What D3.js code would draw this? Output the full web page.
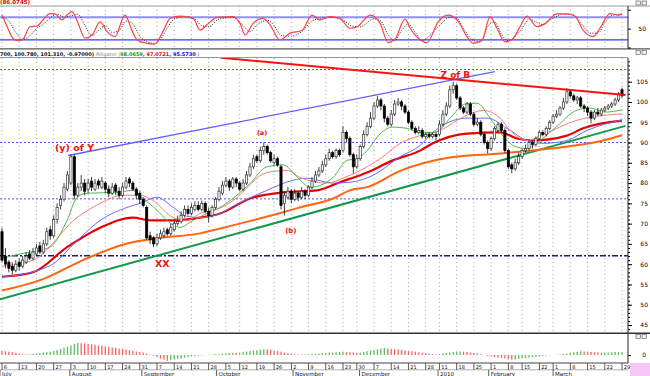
<!DOCTYPE html>
<html>
<head>
<meta charset="utf-8">
<script src="https://cdn.jsdelivr.net/npm/d3@7"></script>
<style>
  body { margin: 0; background: #fff; }
  svg { display: block; font-family: "DejaVu Sans", Verdana, sans-serif; }
</style>
</head>
<body>
<div id="chart"></div>
<script>
// ---- data: daily candles, bar index 0 = 6 July 2009 ----
const opens = [
  68, 62, 60.5, 59.5, 58.5, 60.5, 59.5, 60.5, 62.5, 61.5,
  62.5, 64.5, 63, 65, 68.5, 67, 71, 74.5, 76, 78.5,
  80, 86.5, 77, 79, 80, 78.5, 80.5, 78.5, 80.5, 79,
  80, 78.5, 77.5, 79.5, 78, 77, 79, 81, 80, 78.5,
  77.5, 76, 74, 67, 66.5, 65, 66.5, 67, 68.5, 67.5,
  68.5, 70, 70.5, 72, 73.5, 72.5, 73.5, 74.5, 73.5, 75,
  73, 72, 74, 76, 77.5, 79.5, 80.5, 79, 81, 80,
  78.5, 80, 82, 84, 86.5, 85.5, 88, 89, 87.5, 85,
  86, 84, 75, 76.5, 78, 76, 77.5, 76.5, 78, 77,
  79, 80.5, 82, 83, 84.5, 86, 87.5, 86.5, 88, 88,
  92.5, 91, 87, 84, 86, 89, 92, 94, 96, 99,
  100.5, 99, 96, 94.5, 97, 99.5, 100, 99, 97.5, 95,
  93.5, 92.5, 93, 91.5, 92, 91.5, 92, 92, 94.5, 97,
  99, 103, 104, 101, 98.5, 97.5, 99.5, 97, 94.5, 95,
  92, 90, 88.5, 91, 93, 94.5, 93, 88, 84.5, 83.5,
  85, 86.5, 88, 88.5, 90, 89.5, 91, 92.5, 92, 93.5,
  95, 96.5, 97, 98.5, 100, 102.5, 101.5, 100.5, 101, 99,
  98.5, 97.5, 96, 97.5, 97, 98, 98.5, 99, 99.5, 100.5,
  103
];
const highs = [
  69, 64, 61, 60.5, 61, 61.5, 62, 63, 63.5, 64,
  65, 65.5, 66, 69, 69.5, 72, 75, 77, 80, 83,
  87, 87, 80, 82, 81, 81, 81.5, 81, 81, 81.5,
  80.5, 79.5, 80, 80, 79, 80, 81.5, 81.5, 80.5, 79,
  78, 76.5, 74.5, 68, 67, 67.5, 68.5, 69, 69, 70,
  71, 72, 73, 74.5, 74.5, 75, 75.5, 75.5, 75.7, 75.5,
  74, 74.5, 76.5, 79, 80.5, 81.5, 81, 81.5, 81.5, 80.5,
  81, 83, 85, 87, 87, 89, 90, 89.5, 88, 87,
  86.5, 84.5, 78, 79, 78.5, 78.5, 78, 79, 78.5, 79.5,
  81.5, 83, 84, 85.5, 87, 88.5, 88, 88.5, 88.5, 94,
  93, 91.5, 87.5, 87, 89.5, 93, 95, 97.5, 100, 101.5,
  101, 99.5, 96.5, 98, 100.5, 101, 100.5, 99.5, 98, 95.5,
  94, 94, 93.5, 92.5, 92.5, 92.5, 92.5, 95.5, 98, 100,
  104, 105, 104.5, 101.5, 99, 100, 100, 97.5, 96, 95.5,
  92.5, 90.5, 91.5, 94, 95, 95, 93.5, 88.5, 85, 86,
  87.5, 88.5, 89.5, 90.5, 90.5, 91.5, 93, 93, 94, 95.5,
  97, 98, 99, 101, 103.4, 103, 102, 101.5, 101.5, 99.5,
  99, 98, 98, 98.5, 98.5, 99, 99.5, 100, 101, 102.5,
  103.5
];
const lows = [
  60.5, 59, 58, 57.5, 58, 58.5, 59, 60, 61, 61,
  62, 62.5, 62.5, 64.5, 66, 66.5, 70, 73.5, 75.5, 78,
  79.5, 76, 76.5, 78, 77, 77.5, 78, 78, 78.5, 78.5,
  77.5, 76.5, 77, 77, 76, 76.5, 78.5, 79, 78, 76,
  75, 74, 66, 65, 64.2, 64.5, 66, 66.5, 67, 67,
  68, 69.5, 70, 71.5, 72, 72, 73, 73, 73, 72.5,
  70.3, 71.5, 73.5, 75.5, 77, 79, 78, 78.5, 79, 78,
  78, 79.5, 81.5, 83.5, 85, 85, 87, 87, 85, 84.5,
  84, 73.5, 72, 76, 75, 75.5, 75.5, 76, 76, 76.5,
  78.5, 80, 81.5, 82.5, 84, 85.5, 86, 86, 86.5, 87.5,
  90, 86.5, 82.4, 83.5, 85.5, 88.5, 91.5, 93.5, 95.5, 98.5,
  98, 95, 94, 94, 96.5, 99, 98, 97, 94.5, 93,
  92, 92, 91, 91, 91, 91, 90.5, 91.5, 94, 96.5,
  98.5, 102, 100.5, 98, 97, 97, 96.5, 94, 94, 91.5,
  89.5, 87.3, 88, 90.5, 92.5, 92.5, 87.5, 83.5, 82.4, 83,
  84.5, 86, 87.5, 88, 88.5, 89, 90.5, 91.5, 91.5, 93,
  94.5, 96, 96.5, 98, 99.5, 101, 100, 99.5, 98.5, 97.5,
  96.5, 94.7, 95.5, 96.5, 96.5, 97.5, 98, 98.5, 99, 100,
  101
];
const closes = [
  61, 60, 59, 58.5, 60, 59.5, 61, 62, 61.5, 63,
  64, 63, 65, 68, 67, 71, 74, 76, 79, 82,
  86.5, 77, 79, 80, 78, 80, 79, 80, 79.5, 80.5,
  78.5, 77.5, 79, 78, 77, 79, 80.5, 80, 78.5, 77,
  76, 74.5, 66.5, 66, 65, 66.5, 67.5, 68, 67.5, 69,
  70, 70.5, 72, 73.5, 72.5, 74, 74.5, 73.5, 75, 73,
  72, 74, 76, 78, 79.5, 80.5, 79, 81, 80, 78.5,
  80, 82, 84, 86, 85.5, 88, 89, 87.5, 85.5, 86,
  84.5, 74.5, 77, 78, 76, 77.5, 76.5, 78, 77, 79,
  80.5, 82, 83, 84.5, 86, 87.5, 86.5, 88, 87, 92.5,
  91, 87, 84, 86, 89, 92, 94, 96, 99, 100.5,
  99, 96, 94.5, 97, 99.5, 100, 99, 97.5, 95, 93.5,
  92.5, 93, 91.5, 92, 91.5, 92, 91.5, 94.5, 97, 99,
  103, 104, 101, 98.5, 97.5, 99.5, 97, 94.5, 95, 92,
  90, 88.5, 91, 93.5, 94.5, 93, 88, 84, 83.5, 85,
  86.5, 88, 88.5, 90, 89.5, 91, 92.5, 92, 93.5, 95,
  96.5, 97, 98.5, 100, 102.5, 101.5, 100.5, 101, 99, 98.5,
  97.5, 96, 97.5, 97, 98, 98.5, 99, 99.5, 100.5, 102,
  101.5
];

// histogram (lower pane), one value per bar
const histo = [
  4.3, 3.8, 3.3, 2.8, 2.2, 1.5, 0.8, 0.4, 0.8, 1.2,
  1.6, 2, 2.4, 2.8, 3.3, 4, 5, 6, 7.2, 8.4,
  9.6, 11, 12, 11.8, 11.5, 11.1, 10.7, 10.2, 9.7, 9.3,
  8.8, 8.2, 7.6, 7.2, 6.6, 6, 5.4, 4.8, 4.2, 3.6,
  3, 2.4, 1.6, 0.6, -0.8, -2.2, -3.6, -4.8, -5.7, -5.2,
  -4.6, -4, -3.4, -2.8, -2.2, -1.6, -1.1, -0.7, -0.4, -0.1,
  0.2, 0.5, 0.8, 1.1, 1.4, 1.7, 2, 2.3, 2.1, 2.6,
  3, 3.4, 3.9, 4.4, 4.9, 5.4, 5.8, 5.6, 5.2, 4.6,
  4, 3.3, 2.5, 1.8, 1.2, 0.8, 0.5, 0.6, 0.4, 0.7,
  0.9, 1.2, 1.5, 1.8, 2.1, 2.4, 2.6, 2.8, 3, 3.2,
  2.9, 2.7, 2.4, 2.2, 2.5, 3, 3.7, 4.4, 5.1, 5.8,
  6.4, 7, 6.6, 6.2, 5.8, 5.4, 5, 4.6, 4.2, 3.8,
  3.3, 2.8, 2.3, 1.8, 1.3, 0.9, 0.6, 1, 1.5, 2,
  2.5, 3, 3.4, 3.6, 3.3, 3, 2.6, 2.1, 1.5, 0.8,
  0, -0.8, -1.5, -2, -2.5, -3, -3.6, -4.2, -4.6, -4.4,
  -4, -3.6, -3.2, -2.8, -2.4, -2, -1.5, -1, -0.6, -0.3,
  0.1, 0.3, 0.6, 1, 1.6, 2.2, 2.8, 3.3, 3.8, 3.6,
  3.3, 3, 2.7, 2.4, 2.2, 2.4, 2.6, 2.8, 2.9, 3,
  3.1
];

// indicator lines: [bar, price]
const lipsGreen = [[0,61.5],[5.2,62.5],[13.9,64.2],[18.9,70.8],[21.8,76.5],[24.7,77.5],[33.4,77.7],[38,78.2],[40.9,76.2],[45,73.3],[47.9,70.8],[51.7,69.1],[55.5,70.8],[59.5,72.5],[63.3,74],[72,79.9],[76.9,84],[81.6,84.5],[85.7,81.5],[89.4,79],[92.3,79.4],[96.1,81.4],[100.2,85.6],[103.1,86],[106,88],[109.8,92.2],[113.5,93.8],[117.6,93.5],[121.4,92.5],[125.7,92.5],[130.1,96],[134.4,99.5],[137.9,99.7],[141.7,96],[144.6,92.5],[149,89],[152.4,88.5],[156.2,90.5],[161.1,94],[167,98],[170.8,98.5],[175.1,97.5],[180,98.07]];
const teethRed = [[0,59.5],[9,61],[21.8,71.5],[28.5,75],[35.1,77],[40.1,77],[43.8,75.7],[49.7,71.5],[53.7,70.8],[57.5,72.5],[63.3,73.8],[67.1,75.7],[76.9,82.6],[82.8,83.1],[86.5,81.4],[94.4,80],[99,81.2],[104,83.1],[109.8,86],[115.6,89.8],[121.4,91.7],[127.2,93],[134.4,96.5],[139.7,97.9],[144.6,96],[147.5,93],[152.4,90.5],[157.1,92],[167,95.5],[180,97.07]];
const jawBlue = [[0,56.8],[13.9,59.6],[21.8,65.8],[28.5,70.8],[36.3,74],[40.1,75],[45,76.5],[49.7,74],[53.7,71.8],[57.5,71.5],[63.3,72.5],[67.1,74.3],[76.9,78.2],[84.5,80.7],[88.6,81.2],[96.1,80],[101,80.2],[107.7,81.9],[115.6,86.5],[121.4,89.3],[125.1,92.5],[135,96],[140.8,96],[147.5,93],[152.4,90.5],[157.1,89.8],[164,90.5],[169.9,93],[180,95.57]];
const maRed = [[0,56.9],[9,58],[18.9,64.2],[28.5,69],[38,71.5],[43,70.8],[49.7,70.8],[57.5,71.5],[63.3,72.5],[72,76.2],[81.6,77.7],[91.5,78.2],[98.1,80.2],[106,82.6],[113.5,85.6],[121.4,88],[125.1,89.8],[135,92.2],[144.6,92.5],[149.5,91],[154.2,90.5],[164,91.7],[168.7,93.5],[180,95.4]];
const maOrange = [[0,53.5],[11.9,56.3],[23.5,61],[36.3,65.1],[45,66.4],[57.5,67.6],[63.3,68.8],[81.6,72.8],[86.5,74],[96.1,76.2],[101,78.2],[106,79],[115.6,83],[130,86.3],[144.6,87.3],[159.1,88.5],[173.6,90.3],[180,91.8]];

// hand-drawn trend lines and levels
const trendGreen = [[-0.6,51.35],[181,94.1]];
const channelBlue = [[19.2,86.8],[143.1,107.5]];
const trendRed = [[63.5,110.9],[181,101.7]];
const levelsDotted = [108, 90, 76.1];
const levelDashDot = 62.1;

// annotations
const notes = [
  {text: "(y) of Y", bar: 15.4, price: 87.9, size: 9.5},
  {text: "XX", bar: 44.4, price: 59.3, size: 9.5},
  {text: "(a)", bar: 74, price: 91.8, size: 6.5},
  {text: "(b)", bar: 82.2, price: 67.6, size: 7},
  {text: "Z of B", bar: 127.3, price: 105.8, size: 9}
];

// stochastic (top pane): [bar, value]
const stochK = [[0,86],[1.5,55],[3.2,24],[4.6,18],[6.1,22],[8.1,55],[10.2,57],[11.9,73],[13.9,90],[15.4,89],[17.4,73],[18.9,86],[20.3,95],[22.1,64],[24.1,25],[26.1,33],[28.5,68],[30.5,42],[32.8,29],[35.7,86],[37.7,46],[39.2,20],[42.1,11],[44.4,9],[46.7,42],[48.8,77],[51.7,83],[55.5,77],[57.5,46],[59.5,60],[62.4,80],[67.1,82],[69.1,64],[70.6,33],[72.9,64],[75.8,77],[77.8,60],[80.7,20],[83.6,38],[87.1,45],[90,86],[92.3,73],[95.2,82],[98.1,77],[101,51],[103.1,55],[106.9,86],[109.8,64],[112.1,13],[114.1,22],[117,75],[118.5,51],[121.4,20],[123.4,13],[126.6,68],[129.5,86],[132.1,73],[135,29],[136.8,11],[139.4,20],[141.7,82],[143.7,51],[146,15],[148.4,24],[150.4,55],[152.4,83],[155.3,55],[157.7,64],[161.1,89],[164,89],[166.4,83],[168.7,46],[171.6,29],[173.6,51],[176.5,90],[178.9,86],[180,89]];
const stochD = [[0,80],[2,70],[4,40],[6,22],[8,30],[10,50],[12,62],[14,78],[16,88],[18,80],[20,84],[22,88],[24,60],[26,32],[28,45],[30,58],[32,40],[34,45],[36,70],[38,62],[40,30],[42,16],[44,11],[46,22],[48,52],[50,75],[53,82],[56,75],[58,58],[60,55],[63,75],[67,80],[70,58],[72,42],[74,60],[77,72],[79,58],[81,32],[84,30],[87,42],[90,70],[93,78],[96,80],[99,72],[102,56],[104,55],[108,76],[110,70],[112,35],[114,18],[116,45],[118,62],[120,40],[122,18],[124,30],[127,58],[130,80],[132,78],[134,50],[137,18],[139,15],[141,55],[143,68],[145,35],[147,18],[149,30],[151,50],[153,75],[155,68],[157,60],[160,78],[163,88],[166,86],[168,65],[171,38],[173,38],[175,65],[177,85],[180,87]];

// time axis
const tickBars = [0,5,10,15,20,25,30,35,40,45,50,55,60,65,69,74,79,84,89,94,99,103,108,113,118,123,127,132,137,142,147,151,156,160,165,170,175,180];
const tickLabels = ["6","13","20","27","3","10","17","24","31","7","14","21","28","5","12","19","26","2","9","16","23","30","7","14","21","28","11","18","25","1","8","15","22","1","8","15","22","29"];
const monthLabels = ["July","August","September","October","November","December","2010","February","March"];
const monthBars = [-0.6, 19.7, 40.6, 62.3, 84.5, 103.8, 126.6, 141.3, 160];

// ---- drawing ----
const W = 650, H = 376, AX = 628;
const svg = d3.select("#chart").append("svg").attr("width", W).attr("height", H);

const x = d3.scaleLinear().domain([0, 180]).range([2, 622]);
const yP = d3.scaleLinear().domain([43.03, 110.84]).range([333, 58]);
const yS = d3.scaleLinear().domain([0, 100]).range([47.5, 9.75]);
const yH = d3.scaleLinear().domain([-8, 12]).range([363, 343]);

const defs = svg.append("defs");
defs.append("clipPath").attr("id", "clipMain").append("rect").attr("x", 0).attr("y", 58).attr("width", AX).attr("height", 275);
defs.append("clipPath").attr("id", "clipTop").append("rect").attr("x", 0).attr("y", 6).attr("width", AX).attr("height", 42.5);

// panel frames
function hline(y, x1, x2, color, w) {
  svg.append("line").attr("x1", x1).attr("x2", x2).attr("y1", y).attr("y2", y)
     .attr("stroke", color).attr("stroke-width", w);
}
hline(6, 0, 650, "#9a9a9a", 1);
hline(48.8, 0, 650, "#555", 1.3);
hline(57.5, 0, AX, "#999", 1);
hline(333.2, 0, 650, "#333", 1.5);
hline(363, 0, AX, "#444", 1);
hline(369.8, 0, AX, "#999", 0.8);

// vertical dotted grid
[[58, 333], [6, 48]].forEach(([a, b]) => {
  svg.append("g").selectAll("line").data(tickBars).join("line")
    .attr("x1", d => x(d)).attr("x2", d => x(d)).attr("y1", a).attr("y2", b)
    .attr("stroke", "#a8a8a8").attr("stroke-width", 1).attr("stroke-dasharray", "1,3");
});

// ---- top pane: stochastic ----
const topPane = svg.append("g").attr("clip-path", "url(#clipTop)");
topPane.append("line").attr("x1", 0).attr("x2", AX).attr("y1", yS(80)).attr("y2", yS(80))
   .attr("stroke", "#8f8fff").attr("stroke-width", 2);
topPane.append("line").attr("x1", 0).attr("x2", AX).attr("y1", yS(20)).attr("y2", yS(20))
   .attr("stroke", "#3a3aff").attr("stroke-width", 1.2);
const sLine = d3.line().x(d => x(d[0])).y(d => yS(d[1])).curve(d3.curveMonotoneX);
topPane.append("path").attr("d", sLine(stochD)).attr("fill", "none")
   .attr("stroke", "#222").attr("stroke-width", 1).attr("stroke-dasharray", "1,1.5");
topPane.append("path").attr("d", sLine(stochK)).attr("fill", "none")
   .attr("stroke", "#ff4040").attr("stroke-width", 1.2);

svg.append("text").attr("x", 0).attr("y", 4.2).attr("font-size", 5.5).attr("font-weight", "bold")
   .attr("fill", "#e00000").text("(86.0745)");

// ---- main pane ----
const mainPane = svg.append("g").attr("clip-path", "url(#clipMain)");

levelsDotted.forEach(p => {
  mainPane.append("line").attr("x1", 0).attr("x2", AX).attr("y1", yP(p)).attr("y2", yP(p))
      .attr("stroke", "#5555ff").attr("stroke-width", 1).attr("stroke-dasharray", "2,2");
});
mainPane.append("line").attr("x1", 0).attr("x2", AX).attr("y1", yP(levelDashDot)).attr("y2", yP(levelDashDot))
    .attr("stroke", "#1a1a80").attr("stroke-width", 1.5).attr("stroke-dasharray", "6,2,2,2");

const pLine = d3.line().x(d => x(d[0])).y(d => yP(d[1])).curve(d3.curveMonotoneX);
const straight = d3.line().x(d => x(d[0])).y(d => yP(d[1]));

mainPane.append("path").attr("d", straight(trendGreen)).attr("stroke", "#14994a").attr("stroke-width", 2).attr("fill", "none");
mainPane.append("path").attr("d", pLine(maOrange)).attr("stroke", "#ff6410").attr("stroke-width", 2).attr("fill", "none");
mainPane.append("path").attr("d", pLine(maRed)).attr("stroke", "#e60000").attr("stroke-width", 2.2).attr("fill", "none");
mainPane.append("path").attr("d", pLine(jawBlue)).attr("stroke", "#6a6aff").attr("stroke-width", 1).attr("fill", "none");
mainPane.append("path").attr("d", pLine(teethRed)).attr("stroke", "#ff7a7a").attr("stroke-width", 1).attr("fill", "none");
mainPane.append("path").attr("d", pLine(lipsGreen)).attr("stroke", "#4cba4c").attr("stroke-width", 1).attr("fill", "none");
mainPane.append("path").attr("d", straight(channelBlue)).attr("stroke", "#6060ff").attr("stroke-width", 1.3).attr("fill", "none");

// candles
const bars = d3.range(closes.length);
const cg = mainPane.append("g");
cg.selectAll("line").data(bars).join("line")
  .attr("x1", i => x(i)).attr("x2", i => x(i))
  .attr("y1", i => yP(highs[i])).attr("y2", i => yP(lows[i]))
  .attr("stroke", "#111").attr("stroke-width", 0.8);
cg.selectAll("rect").data(bars).join("rect")
  .attr("x", i => x(i) - 1.1).attr("width", 2.2)
  .attr("y", i => yP(Math.max(opens[i], closes[i])))
  .attr("height", i => Math.max(0.6, Math.abs(yP(opens[i]) - yP(closes[i]))))
  .attr("fill", i => closes[i] >= opens[i] ? "#fff" : "#000")
  .attr("stroke", i => closes[i] >= opens[i] ? "#333" : "#000")
  .attr("stroke-width", 0.7);

mainPane.append("path").attr("d", straight(trendRed)).attr("stroke", "#ff1010").attr("stroke-width", 2).attr("fill", "none");

notes.forEach(n => {
  mainPane.append("text").attr("x", x(n.bar)).attr("y", yP(n.price))
      .attr("font-size", n.size).attr("font-weight", "bold").attr("fill", "#f01010").text(n.text);
});

// header line of the main pane
const hdr = svg.append("text").attr("x", 0).attr("y", 55.8).attr("font-size", 5).attr("font-weight", "bold");
hdr.append("tspan").attr("fill", "#111").text("700, 100.780, 101.310, -0.97000)");
hdr.append("tspan").attr("fill", "#888").attr("font-weight", "normal").text(" Alligator (");
hdr.append("tspan").attr("fill", "#0a9a0a").text("98.0659,");
hdr.append("tspan").attr("fill", "#f00000").text(" 97.0721,");
hdr.append("tspan").attr("fill", "#0000ee").text(" 95.5730");
hdr.append("tspan").attr("fill", "#555").attr("font-weight", "normal").text(" )");

// ---- lower pane: histogram ----
svg.append("g").selectAll("line").data(bars).join("line")
  .attr("x1", i => x(i)).attr("x2", i => x(i))
  .attr("y1", yH(0)).attr("y2", i => yH(histo[i]))
  .attr("stroke", i => (i > 0 && histo[i] > histo[i - 1]) ? "#5cbf5c" : "#ff6060")
  .attr("stroke-width", 1.3);

// ---- right axes ----
const axMain = svg.append("g").attr("transform", `translate(${AX},0)`);
axMain.call(d3.axisRight(yP).tickValues(d3.range(44, 111, 1)).tickSize(2).tickFormat(""));
axMain.call(g => g.select(".domain").remove());
const axMajor = svg.append("g").attr("transform", `translate(${AX},0)`)
  .call(d3.axisRight(yP).tickValues(d3.range(45, 110, 5)).tickSize(4).tickPadding(16));
axMajor.selectAll("text").attr("text-anchor", "end").attr("font-size", 6).attr("font-family", "DejaVu Sans");
axMajor.select(".domain").remove();
svg.append("line").attr("x1", AX).attr("x2", AX).attr("y1", 58).attr("y2", 333).attr("stroke", "#222");

const axTop = svg.append("g").attr("transform", `translate(${AX},0)`)
  .call(d3.axisRight(yS).tickValues([0, 50, 100]).tickSize(3).tickPadding(15).tickFormat(d => d === 50 ? "50" : ""));
axTop.selectAll("text").attr("text-anchor", "end").attr("font-size", 6).attr("font-family", "DejaVu Sans");
axTop.select(".domain").remove();
svg.append("line").attr("x1", AX).attr("x2", AX).attr("y1", 6).attr("y2", 48.5).attr("stroke", "#222");

const axLow = svg.append("g").attr("transform", `translate(${AX},0)`)
  .call(d3.axisRight(yH).tickValues([0]).tickSize(3).tickPadding(15));
axLow.selectAll("text").attr("text-anchor", "end").attr("font-size", 6).attr("font-family", "DejaVu Sans");
axLow.select(".domain").remove();
svg.append("line").attr("x1", AX).attr("x2", AX).attr("y1", 334).attr("y2", 363).attr("stroke", "#222");

// panel buttons
[1, 50.5, 334.5].forEach(y0 => {
  [636, 642].forEach(x0 => {
    svg.append("rect").attr("x", x0).attr("y", y0).attr("width", 4.5).attr("height", 4)
       .attr("fill", "#eee").attr("stroke", "#555").attr("stroke-width", 0.6);
  });
});

// ---- date axis ----
const dates = svg.append("g");
dates.selectAll("line").data(tickBars).join("line")
  .attr("x1", d => x(d)).attr("x2", d => x(d)).attr("y1", 363).attr("y2", 370)
  .attr("stroke", "#333").attr("stroke-width", 0.8);
dates.selectAll("text").data(tickBars).join("text")
  .attr("x", d => x(d) + 1.8).attr("y", 368.6).attr("font-size", 5).attr("fill", "#111")
  .text((d, i) => tickLabels[i]);

const months = svg.append("g");
months.selectAll("line").data(monthBars).join("line")
  .attr("x1", d => x(d)).attr("x2", d => x(d)).attr("y1", 370).attr("y2", 376)
  .attr("stroke", "#333").attr("stroke-width", 0.8);
months.selectAll("text").data(monthBars).join("text")
  .attr("x", d => x(d) + 2).attr("y", 375.5).attr("font-size", 5.5).attr("fill", "#111")
  .text((d, i) => monthLabels[i]);

svg.append("rect").attr("x", 630).attr("y", 363).attr("width", 20).attr("height", 13).attr("fill", "#f6c6f6");
</script>
</body>
</html>
